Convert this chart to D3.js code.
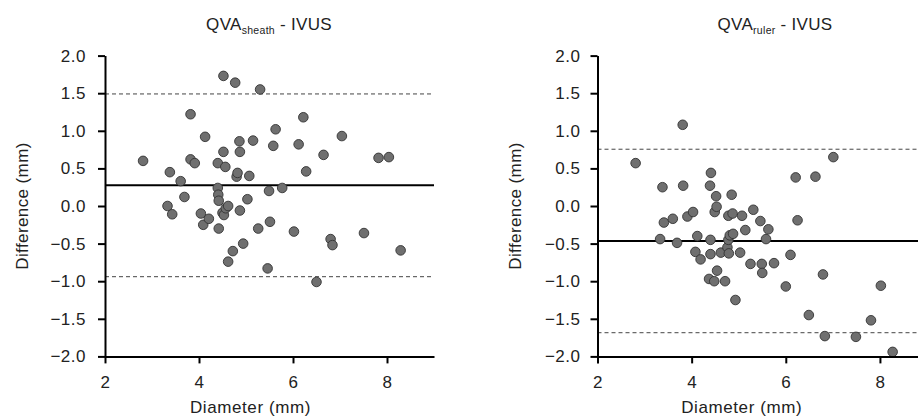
<!DOCTYPE html>
<html>
<head>
<meta charset="utf-8">
<script src="https://cdn.jsdelivr.net/npm/d3@7"></script>
<style>
  body { margin: 0; background: #fff; }
  svg { display: block; font-family: "Liberation Sans", Arial, sans-serif; }
</style>
</head>
<body>
<svg width="918" height="416"></svg>
<script>
const width = 918
const height = 416

// QVA sheath - IVUS : [diameter, difference]
const sheathDiameter = [2.81, 3.33, 3.38, 3.43, 3.61, 3.69, 3.82, 3.82, 3.91, 4.04, 4.09, 4.13, 4.21, 4.40, 4.40, 4.41, 4.42, 4.42, 4.50, 4.53, 4.52, 4.52, 4.56, 4.57, 4.62, 4.62, 4.72, 4.77, 4.80, 4.82, 4.86, 4.87, 4.87, 4.94, 5.03, 5.07, 5.15, 5.26, 5.30, 5.46, 5.49, 5.51, 5.58, 5.63, 5.77, 6.02, 6.12, 6.22, 6.28, 6.50, 6.65, 6.80, 6.84, 7.04, 7.51, 7.82, 8.04, 8.29]
const sheathDifference = [0.60, 0.00, 0.45, -0.11, 0.33, 0.12, 1.22, 0.62, 0.57, -0.10, -0.25, 0.92, -0.17, 0.57, 0.24, 0.15, 0.07, -0.30, -0.09, -0.12, 0.72, 1.73, 0.52, -0.03, 0.00, -0.74, -0.60, 1.64, 0.39, 0.44, 0.86, 0.72, -0.06, -0.50, 0.09, 0.40, 0.87, -0.30, 1.55, -0.83, 0.20, -0.21, 0.80, 1.02, 0.24, -0.34, 0.82, 1.18, 0.46, -1.01, 0.68, -0.44, -0.52, 0.93, -0.36, 0.64, 0.65, -0.59]
const sheathMean = 0.275
const sheathLimits = [-0.94, 1.49]

// QVA ruler - IVUS
const rulerDiameter = [2.81, 3.33, 3.38, 3.41, 3.60, 3.69, 3.81, 3.82, 3.91, 4.03, 4.08, 4.12, 4.19, 4.37, 4.39, 4.40, 4.40, 4.41, 4.48, 4.49, 4.52, 4.53, 4.54, 4.62, 4.71, 4.76, 4.78, 4.78, 4.79, 4.81, 4.85, 4.87, 4.88, 4.93, 5.03, 5.07, 5.14, 5.25, 5.31, 5.46, 5.49, 5.50, 5.58, 5.63, 5.75, 6.00, 6.10, 6.21, 6.25, 6.49, 6.63, 6.79, 6.83, 7.01, 7.49, 7.81, 8.02, 8.27]
const rulerDifference = [0.57, -0.44, 0.25, -0.22, -0.17, -0.49, 1.08, 0.27, -0.14, -0.08, -0.61, -0.40, -0.71, -0.97, 0.27, -0.45, -0.64, 0.44, -1.00, -0.08, 0.13, -0.01, -0.86, -0.62, -1.00, -0.55, -0.45, -0.13, -0.63, -0.39, 0.15, -0.10, -0.37, -1.25, -0.62, -0.13, -0.32, -0.77, -0.05, -0.20, -0.77, -0.89, -0.44, -0.31, -0.76, -1.07, -0.65, 0.38, -0.19, -1.45, 0.39, -0.91, -1.73, 0.65, -1.74, -1.52, -1.06, -1.94]
const rulerMean = -0.465
const rulerLimits = [-1.685, 0.755]

const xTicks = [2, 4, 6, 8]
const yTicks = [-2, -1.5, -1, -0.5, 0, 0.5, 1, 1.5, 2]
const xLabel = "Diameter (mm)"
const yLabel = "Difference (mm)"

const panels = [
  {main: "QVA", sub: "sheath", rest: " - IVUS", xs: sheathDiameter, ys: sheathDifference,
   mean: sheathMean, limits: sheathLimits, left: 105, right: 434,
   titleX: 269, xLabelX: 250.5, yLabelX: 28, pad: 12},
  {main: "QVA", sub: "ruler", rest: " - IVUS", xs: rulerDiameter, ys: rulerDifference,
   mean: rulerMean, limits: rulerLimits, left: 597.5, right: 927,
   titleX: 775, xLabelX: 741.7, yLabelX: 521, pad: 10}
]

const plotTop = 55.6, plotBottom = 356.4
const fontSize = "17px"

const svg = d3.select("svg")

panels.forEach(function(p) {
  const g = svg.append("g")

  const x = d3.scaleLinear().domain([2, 9]).range([p.left, p.right])
  const y = d3.scaleLinear().domain([-2, 2]).range([plotBottom, plotTop])

  // limits of agreement
  g.selectAll(".limit")
    .data(p.limits)
    .enter().append("line")
    .attr("x1", x(2)).attr("x2", x(9))
    .attr("y1", d => y(d)).attr("y2", d => y(d))
    .attr("stroke", "#444")
    .attr("stroke-width", 1)
    .attr("stroke-dasharray", "4,3")

  // mean difference
  g.append("line")
    .attr("x1", x(2)).attr("x2", x(9))
    .attr("y1", y(p.mean)).attr("y2", y(p.mean))
    .attr("stroke", "#000")
    .attr("stroke-width", 2)

  // points
  g.selectAll("circle")
    .data(p.xs.map((d, i) => [d, p.ys[i]]))
    .enter().append("circle")
    .attr("cx", d => x(d[0]))
    .attr("cy", d => y(d[1]))
    .attr("r", 4.8)
    .attr("fill", "#6f6f6f")
    .attr("stroke", "#333")
    .attr("stroke-width", 0.9)

  // axes
  const yAxis = g.append("g")
    .attr("transform", `translate(${p.left},0)`)
    .call(d3.axisLeft(y).tickValues(yTicks).tickFormat(d3.format(".1f")).tickSizeInner(7).tickSizeOuter(0).tickPadding(p.pad))
  const xAxis = g.append("g")
    .attr("transform", `translate(0,${plotBottom})`)
    .call(d3.axisBottom(x).tickValues(xTicks).tickFormat(d3.format("d")).tickSizeInner(7).tickSizeOuter(0).tickPadding(13))

  ;[xAxis, yAxis].forEach(function(a) {
    a.select(".domain").attr("stroke", "#000").attr("stroke-width", 2)
    a.selectAll(".tick line").attr("stroke", "#000").attr("stroke-width", 2)
    a.selectAll(".tick text").attr("fill", "#222").attr("font-size", fontSize)
      .attr("letter-spacing", "0.5px")
      .attr("font-family", "Liberation Sans, Arial, sans-serif")
  })

  // title
  const t = g.append("text")
    .attr("x", p.titleX)
    .attr("y", 30)
    .attr("text-anchor", "middle")
    .attr("font-size", fontSize)
    .attr("letter-spacing", "0.3px")
    .attr("fill", "#222")
  t.append("tspan").text(p.main)
  t.append("tspan").attr("font-size", "10.5px").attr("dy", 4).text(p.sub)
  t.append("tspan").attr("dy", -4).text(p.rest)

  // axis labels
  g.append("text")
    .attr("x", p.xLabelX)
    .attr("y", 413)
    .attr("text-anchor", "middle")
    .attr("font-size", fontSize)
    .attr("letter-spacing", "0.6px")
    .attr("fill", "#222")
    .text(xLabel)

  g.append("text")
    .attr("transform", `translate(${p.yLabelX},${(plotTop + plotBottom) / 2}) rotate(-90)`)
    .attr("text-anchor", "middle")
    .attr("font-size", fontSize)
    .attr("letter-spacing", "0.4px")
    .attr("fill", "#222")
    .text(yLabel)
})
</script>
</body>
</html>
